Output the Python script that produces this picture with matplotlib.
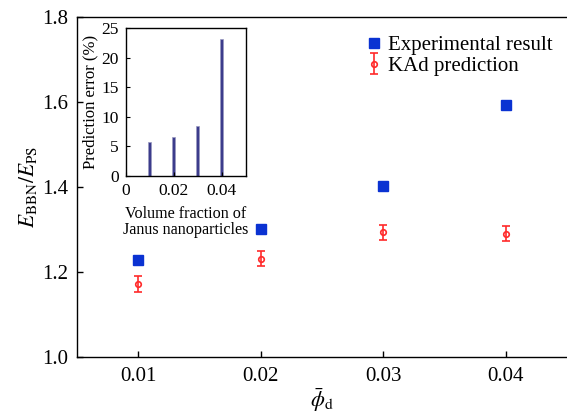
import matplotlib
matplotlib.use("Agg")
import matplotlib.pyplot as plt

plt.rcParams['font.family'] = ['Liberation Serif', 'DejaVu Serif']
plt.rcParams['mathtext.fontset'] = 'stix'

# data
phi = [0.01, 0.02, 0.03, 0.04]
experimental = [1.228, 1.302, 1.402, 1.592]
kad = [1.171, 1.231, 1.293, 1.290]
kad_err = [0.019, 0.018, 0.018, 0.018]
pred_error = [5.8, 6.6, 8.4, 23.2]

fig = plt.figure(figsize=(5.67, 4.15), dpi=100)
ax = fig.add_axes([0.1358, 0.1398, 0.8642, 0.8192])

ax.plot(phi, experimental, 's', color='#0a32d2', markersize=7.7,
        linestyle='none', label='Experimental result')
ax.errorbar(phi, kad, yerr=kad_err, fmt='o', color='#ff2a2a', mfc='none',
            markersize=4, mew=1.2, elinewidth=1.2, capsize=3, capthick=1.2,
            label='KAd prediction')

ax.set_xlim(0.005, 0.045)
ax.set_ylim(1.0, 1.8)
ax.set_xticks([0.01, 0.02, 0.03, 0.04])
ax.set_yticks([1.0, 1.2, 1.4, 1.6, 1.8])
ax.set_xticklabels(['0.01', '0.02', '0.03', '0.04'])
ax.set_yticklabels(['1.0', '1.2', '1.4', '1.6', '1.8'])
ax.tick_params(direction='in', labelsize=15, length=4, width=1)
ax.tick_params(axis='y', pad=6.5)
ax.tick_params(axis='x', pad=7)
ax.spines['right'].set_visible(False)
for s in ['left', 'bottom', 'top']:
    ax.spines[s].set_linewidth(1)

ax.set_xlabel(r'$\bar{\phi}_{\mathrm{d}}$', fontsize=16, labelpad=0)
ax.set_ylabel(r'$E_{\mathrm{BBN}}/E_{\mathrm{PS}}$', fontsize=15.5, labelpad=2)

ax.legend(loc='upper left', bbox_to_anchor=(0.56, 0.982), frameon=False,
          fontsize=15, handletextpad=0.15, handlelength=1.0,
          borderaxespad=0.2, labelspacing=0.05)

# inset with prediction error bars
ins = fig.add_axes([0.2222, 0.5766, 0.2111, 0.3552])
ins.bar(phi, pred_error, width=0.0012, color='#3c3c8c', edgecolor='#9a9ac0',
        linewidth=0.5)
ins.set_xlim(0, 0.05)
ins.set_ylim(0, 25)
ins.set_xticks([0, 0.02, 0.04])
ins.set_xticklabels(['0', '0.02', '0.04'])
ins.set_yticks([0, 5, 10, 15, 20, 25])
ins.tick_params(direction='in', labelsize=12.5, length=3, width=0.8, pad=5)
for s in ins.spines.values():
    s.set_linewidth(1)
ins.set_ylabel('Prediction error (%)', fontsize=12, labelpad=2)
ins.set_xlabel('Volume fraction of\nJanus nanoparticles', fontsize=11.6,
               labelpad=5, linespacing=1.05)

fig.savefig('out.png', dpi=100)
